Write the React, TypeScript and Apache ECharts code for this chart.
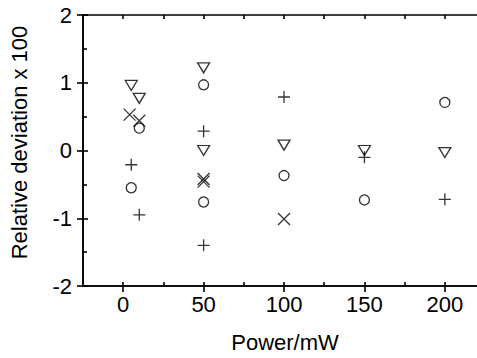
import React, { useEffect, useRef } from "react";
import * as echarts from "echarts";

const xMajor = [0, 50, 100, 150, 200];
const xMinor = [0, 25, 50, 75, 100, 125, 150, 175, 200];

// [power, deviation]
const triangleData = [[5, 0.96], [10, 0.77], [50, 1.22], [50, 0.0], [100, 0.08], [150, 0.0], [200, -0.03]];
const circleData = [[10, 0.33], [5, -0.55], [50, 0.97], [50, -0.76], [100, -0.37], [150, -0.73], [200, 0.71]];
const plusData = [[5, -0.21], [10, -0.95], [50, 0.285], [50, -1.4], [100, 0.79], [150, -0.1], [200, -0.72]];
const crossData = [[4, 0.53], [10, 0.44], [50, -0.42], [50, -0.46], [100, -1.01]];

const FONT = "'Liberation Sans', Arial, sans-serif";
const BLACK = "#000";

const lineStyle = { color: BLACK, width: 1.6 };

function sym(name: string, data: number[][], symbol: string, size: number | number[]) {
  return {
    name,
    type: "scatter",
    xAxisIndex: 0,
    yAxisIndex: 0,
    data,
    symbol,
    symbolSize: size,
    itemStyle: { color: "none", borderColor: BLACK, borderWidth: 1.3 },
    emphasis: { disabled: true },
    silent: true,
  };
}

export default function App() {
  const ref = useRef<HTMLDivElement>(null);
  useEffect(() => {
    if (!ref.current) return;
    const chart = echarts.init(ref.current, null, { renderer: "svg" });
    chart.setOption({
      animation: false,
      backgroundColor: "#fff",
      grid: { left: 76, top: 15, right: -2, bottom: 66, containLabel: false },
      xAxis: [
        {
          type: "value",
          min: -25,
          max: 220,
          position: "bottom",
          axisLine: { show: true, onZero: false, lineStyle },
          axisTick: { show: true, inside: false, length: 6, customValues: xMajor, lineStyle },
          axisLabel: { show: true, customValues: xMajor, margin: 7, fontSize: 22, color: BLACK, fontFamily: FONT },
          splitLine: { show: false },
          name: "Power/mW",
          nameLocation: "middle",
          nameGap: 45,
          nameTextStyle: { fontSize: 22, color: BLACK, fontFamily: FONT, padding: [0, 0, 0, 10] },
        },
        {
          type: "value",
          min: -25,
          max: 220,
          position: "bottom",
          axisLine: { show: true, onZero: false, lineStyle },
          axisTick: { show: true, inside: true, length: 4, customValues: xMinor, lineStyle },
          axisLabel: { show: false },
          splitLine: { show: false },
        },
        {
          type: "value",
          min: -25,
          max: 220,
          position: "top",
          axisLine: { show: true, onZero: false, lineStyle },
          axisTick: { show: true, inside: true, length: 4, customValues: xMinor, lineStyle },
          axisLabel: { show: false },
          splitLine: { show: false },
        },
      ],
      yAxis: [
        {
          type: "value",
          min: -2,
          max: 2,
          interval: 1,
          position: "left",
          axisLine: { show: true, onZero: false, lineStyle },
          axisTick: { show: true, inside: false, length: 6, lineStyle },
          axisLabel: { show: true, margin: 11, fontSize: 22, color: BLACK, fontFamily: FONT },
          splitLine: { show: false },
          name: "Relative deviation x 100",
          nameLocation: "middle",
          nameGap: 53,
          nameTextStyle: { fontSize: 22, color: BLACK, fontFamily: FONT, padding: [0, 0, 0, 16] },
        },
        {
          type: "value",
          min: -2,
          max: 2,
          interval: 1,
          position: "left",
          axisLine: { show: true, onZero: false, lineStyle },
          axisTick: { show: true, inside: true, length: 5, lineStyle },
          minorTick: { show: true, splitNumber: 2, length: 4, lineStyle },
          axisLabel: { show: false },
          splitLine: { show: false },
          minorSplitLine: { show: false },
        },
      ],
      series: [
        sym("triangle", triangleData, "path://M0,0 L10,0 L5,8.5 Z", [12, 10]),
        sym("circle", circleData, "circle", 10),
        sym("plus", plusData, "path://M5,0 L5,10 M0,5 L10,5", 12),
        sym("cross", crossData, "path://M0,0 L10,10 M10,0 L0,10", 12),
      ],
    });
    return () => chart.dispose();
  }, []);
  return (
    <div
      ref={ref}
      style={{ position: "fixed", left: 0, top: 0, width: 477, height: 358, background: "#fff" }}
    />
  );
}
